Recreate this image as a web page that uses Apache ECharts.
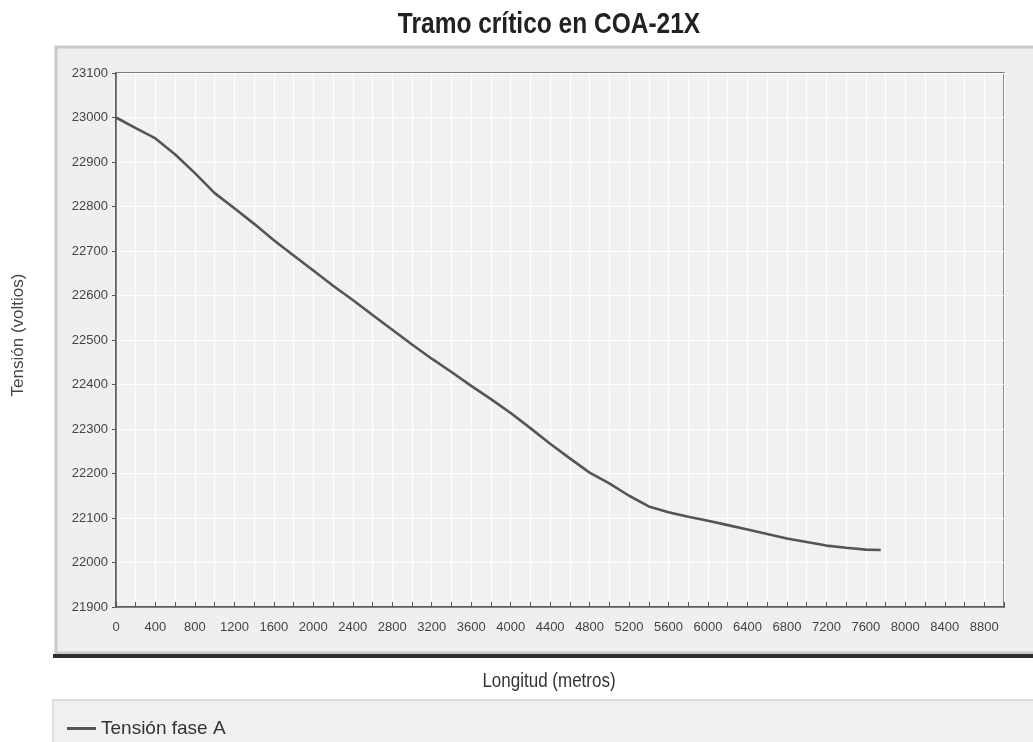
<!DOCTYPE html>
<html>
<head>
<meta charset="utf-8">
<script src="https://cdn.jsdelivr.net/npm/echarts@6/dist/echarts.min.js"></script>
<style>
  html, body { margin: 0; padding: 0; background: #ffffff; }
  #chart { width: 1033px; height: 742px; }
</style>
</head>
<body>
<div id="chart"></div>
<script>
// Longitud a lo largo del tramo (m) y tensión de la fase A (V)
const distancias = [0, 200, 400, 600, 800, 1000, 1200, 1400, 1600, 1800, 2000, 2200, 2400, 2600, 2800,
  3000, 3200, 3400, 3600, 3800, 4000, 4200, 4400, 4600, 4800, 5000, 5200, 5400, 5600, 5800,
  6000, 6200, 6400, 6600, 6800, 7000, 7200, 7400, 7600, 7750];
const tensionFaseA = [23000, 22976, 22953, 22917, 22875, 22830, 22796, 22761, 22724, 22690, 22656,
  22622, 22590, 22556, 22523, 22490, 22458, 22428, 22397, 22367, 22336, 22302, 22267, 22234, 22202,
  22178, 22150, 22126, 22113, 22103, 22094, 22084, 22074, 22064, 22054, 22046, 22038, 22033, 22029, 22028];

const titulo = 'Tramo crítico en COA-21X';
const nombreSerie = 'Tensión fase A';
const tituloX = 'Longitud (metros)';
const tituloY = 'Tensión (voltios)';

const fuente = '"Liberation Sans", Arial, sans-serif';

const chart = echarts.init(document.getElementById('chart'));

chart.setOption({
  animation: false,
  backgroundColor: '#ffffff',
  graphic: [
    // panel del gráfico
    { type: 'rect', z: -10, shape: { x: 56, y: 47, width: 990, height: 606 },
      style: { fill: '#efefef', stroke: '#c9c9c9', lineWidth: 3 } },
    // franja oscura bajo el panel
    { type: 'rect', z: -9, shape: { x: 53, y: 654, width: 990, height: 4 },
      style: { fill: '#2e2e2e' } },
    // caja de la leyenda
    { type: 'rect', z: -10, shape: { x: 53, y: 700, width: 990, height: 50 },
      style: { fill: '#f0f0f0', stroke: '#d4d4d4', lineWidth: 1.5 } },
    // título (tipografía estrecha y alta)
    { type: 'text', x: 549, y: 25, scaleX: 0.98, scaleY: 1.2,
      style: { text: titulo, textAlign: 'center', textVerticalAlign: 'middle',
               font: 'bold 25px ' + fuente, fill: '#222222' } },
    // título del eje X
    { type: 'text', x: 549, y: 681, scaleY: 1.2,
      style: { text: tituloX, textAlign: 'center', textVerticalAlign: 'middle',
               font: '17px ' + fuente, fill: '#333333' } },
    // título del eje Y
    { type: 'text', x: 18, y: 335, rotation: Math.PI / 2,
      style: { text: tituloY, textAlign: 'center', textVerticalAlign: 'middle',
               font: '17px ' + fuente, fill: '#444444' } }
  ],
  legend: {
    left: 62, top: 714,
    icon: 'rect', itemWidth: 29, itemHeight: 3, itemGap: 8,
    textStyle: { fontFamily: fuente, fontSize: 19, color: '#333333' },
    data: [nombreSerie]
  },
  grid: { left: 116, top: 73, right: 29, bottom: 135, show: true,
          backgroundColor: '#f1f1f1', borderColor: '#555555', borderWidth: 1.5 },
  xAxis: {
    type: 'value', min: 0, max: 9000, interval: 200,
    axisLine: { show: true, lineStyle: { color: '#555555', width: 1.5 } },
    axisTick: { show: true, inside: true, length: 5, lineStyle: { color: '#555555' } },
    axisLabel: {
      color: '#444444', fontFamily: fuente, fontSize: 13, margin: 14,
      formatter: v => (v % 400 === 0 && v <= 8800) ? String(v) : ''
    },
    splitLine: { show: true, lineStyle: { color: '#ffffff', width: 1.2 } }
  },
  yAxis: {
    type: 'value', min: 21900, max: 23100, interval: 100,
    axisLine: { show: true, lineStyle: { color: '#555555', width: 1.5 } },
    axisTick: { show: true, length: 4, lineStyle: { color: '#555555' } },
    axisLabel: { color: '#444444', fontFamily: fuente, fontSize: 13, margin: 8,
                 formatter: v => String(v) },
    splitLine: { show: true, lineStyle: { color: '#ffffff', width: 1.2 } }
  },
  series: [{
    name: nombreSerie,
    type: 'line',
    data: distancias.map((d, i) => [d, tensionFaseA[i]]),
    showSymbol: false,
    symbol: 'none',
    lineStyle: { color: '#555555', width: 2.6 },
    itemStyle: { color: '#555555' }
  }]
});
</script>
</body>
</html>
